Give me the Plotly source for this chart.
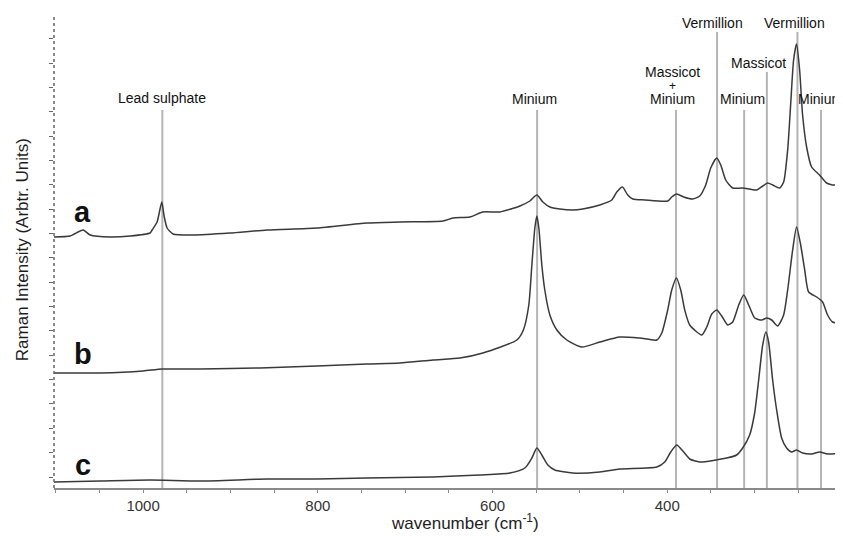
import plotly.graph_objects as go

# ---------------- data ----------------
wn_a = [1102, 1083.5, 1068.6, 1060.6, 1037.7, 1014.9, 992, 989.7, 984, 978.6, 976, 972.5, 965.7,
        942.8, 900.5, 858, 801, 743.8, 706, 656.8, 645.4, 626, 611.1, 591.6, 568.7, 557.3, 549.3,
        542.4, 534.4, 523, 508.1, 496.7, 477.2, 463.5, 457.8, 451.3, 445.3, 439.5, 425.8, 399.5,
        394.9, 389.2, 381.2, 370.9, 362.9, 356.0, 350.3, 343.4, 338.8, 333.1, 325.1, 313.7, 297.7,
        290.8, 285.1, 279.4, 271.4, 266.8, 262.2, 258.8, 255.4, 252, 248.5, 245.1, 240.5, 234.8,
        225.7, 217.6, 208.4, 200.4]
int_a = [251, 252, 258, 253, 251, 252, 255, 258, 266, 286, 272, 260, 254,
         253, 255, 258, 260, 265, 266, 267, 270, 271, 276, 276, 282, 287, 293,
         286, 281, 279, 278, 279, 283, 288, 296, 301, 293, 289, 288, 287,
         291, 294, 291, 289, 292, 303, 320, 330, 323, 308, 300, 300, 298,
         302, 305, 303, 300, 306, 338, 383, 428, 444, 418, 373, 341, 321,
         313, 305, 303, 312]

wn_b = [1102, 1049, 1000, 978, 934.8, 866, 801, 743.8, 706, 668.3, 637.4, 611.1, 572.2, 564.7,
        558.5, 555, 551.6, 549.3, 547.0, 543.6, 540.2, 534.4, 526.4, 515, 497.8, 477.2, 454.4,
        431.5, 412, 406.3, 399.5, 394.9, 389.5, 384.6, 380, 374.3, 360.6, 354.8, 349.1, 343.4,
        337.7, 330.8, 325.1, 318.2, 312.5, 306.8, 299.9, 291.9, 286.2, 280.5, 273.6, 266.8, 262.2,
        256.5, 252, 247.3, 242.7, 238.2, 229, 222.2, 216.5, 210.8, 205.1, 200.4]
int_b = [115, 115, 117, 119, 119, 120, 122, 124, 125, 128, 130, 135, 148, 158,
         183, 223, 260, 272, 260, 223, 198, 173, 158, 148, 141, 146, 151,
         150, 148, 155, 178, 198, 210, 198, 178, 163, 153, 161, 174, 178,
         172, 163, 166, 183, 193, 183, 170, 168, 170, 168, 162, 173, 198,
         238, 261, 243, 218, 196, 191, 186, 173, 166, 165, 170]

wn_c = [1102, 1049, 992, 934.8, 858, 801, 743.8, 668.3, 614.5, 580.2, 563, 555, 549.3, 543.6,
        536.7, 528.7, 508.1, 477.2, 454.4, 412, 402.9, 396, 389.2, 381.2, 374.3, 362.9, 332,
        320.6, 313.7, 305.7, 300, 295.4, 290.8, 287.1, 284, 279.4, 274.8, 269.1, 263.4, 257.6,
        252, 245.1, 234.8, 225.7, 216.5, 200.4]
int_c = [6, 7, 8, 7, 9, 9, 10, 11, 13, 15, 20, 30, 40, 33,
         23, 18, 15, 16, 19, 21, 26, 36, 43, 36, 29, 26, 30,
         33, 40, 53, 75, 108, 143, 156, 146, 108, 78, 50, 40, 36,
         38, 35, 34, 36, 34, 35]

band_names = ["Lead sulphate", "Minium", "Massicot+Minium", "Vermillion", "Minium",
              "Massicot", "Vermillion", "Minium"]
band_pos = [978, 549, 390, 343, 312, 286, 251, 224]
band_top = [378, 378, 378, 456, 378, 416, 456, 378]

label_text = ["Lead sulphate", "Minium", "Massicot", "+", "Minium", "Vermillion", "Minium",
              "Massicot", "Vermillion", "Minium"]
label_x = [978, 552, 393.7, 393.7, 393.7, 347.8, 313.7, 295.4, 254.2, 224.4]
label_y = [390, 389, 416, 402, 389, 465, 389, 425, 465, 389]
label_size = [14, 14, 14, 12, 14, 14, 14, 14, 14, 14]

trace_names = ["a", "b", "c"]
trace_label_x = [1069, 1069, 1069]
trace_label_y = [276, 134, 23]

x_ticks = [1000, 800, 600, 400]
x_range = [1102, 200]
y_range = [0, 471]

# ---------------- figure ----------------
FONT = "Arial, Liberation Sans, Helvetica, sans-serif"
fig = go.Figure()

for wn, it in [(wn_a, int_a), (wn_b, int_b), (wn_c, int_c)]:
    fig.add_trace(go.Scatter(x=wn, y=it, mode="lines",
                             line=dict(color="#3a3a3a", width=1.5, shape="spline", smoothing=0.6),
                             showlegend=False, hoverinfo="skip"))

shapes = []
for xp, top in zip(band_pos, band_top):
    shapes.append(dict(type="line", xref="x", yref="y", x0=xp, x1=xp, y0=0, y1=top,
                       line=dict(color="#b4b4b4", width=2), layer="below"))
# dotted y axis line
shapes.append(dict(type="line", xref="paper", yref="paper", x0=0, x1=0, y0=0, y1=1,
                   line=dict(color="#666666", width=1.5, dash="dot")))

annotations = []
for t, x, y, s in zip(label_text, label_x, label_y, label_size):
    annotations.append(dict(text=t, x=x, y=y, xref="x", yref="y", showarrow=False,
                            xanchor="center", yanchor="middle",
                            font=dict(family=FONT, size=s, color="#111111")))
for t, x, y in zip(trace_names, trace_label_x, trace_label_y):
    annotations.append(dict(text="<b>%s</b>" % t, x=x, y=y, xref="x", yref="y", showarrow=False,
                            xanchor="center", yanchor="middle",
                            font=dict(family=FONT, size=29, color="#111111")))
annotations.append(dict(text="wavenumber (cm<sup>-1</sup>)", x=0.5216, y=-0.072, xref="paper",
                        yref="paper", showarrow=False, xanchor="center", yanchor="middle",
                        font=dict(family=FONT, size=17, color="#1e1e1e")))
annotations.append(dict(text="Raman Intensity (Arbtr. Units)", x=-0.0406, y=0.505, xref="paper",
                        yref="paper", showarrow=False, xanchor="center", yanchor="middle",
                        textangle=-90, font=dict(family=FONT, size=17, color="#1e1e1e")))

# the page body adds an 8px offset, so the figure is 8px smaller and margins compensate
fig.update_layout(
    width=835, height=528,
    margin=dict(l=46, r=1, t=9, b=48, pad=0),
    paper_bgcolor="white", plot_bgcolor="white",
    shapes=shapes, annotations=annotations,
    xaxis=dict(range=x_range, tickvals=x_ticks, ticktext=[str(v) for v in x_ticks],
               showgrid=False, zeroline=False, showline=True, linecolor="#8a8a8a", linewidth=1.5,
               ticks="outside", ticklen=3, tickcolor="#8a8a8a", tickwidth=1,
               minor=dict(dtick=50, tick0=0, ticks="outside", ticklen=3, tickcolor="#8a8a8a"),
               tickfont=dict(family=FONT, size=15, color="#333333")),
    yaxis=dict(range=y_range, showgrid=False, zeroline=False, showline=False,
               showticklabels=False, ticks="outside", ticklen=4, tickcolor="#666666",
               tick0=11, dtick=24.35),
)

fig.write_html("out.html")
